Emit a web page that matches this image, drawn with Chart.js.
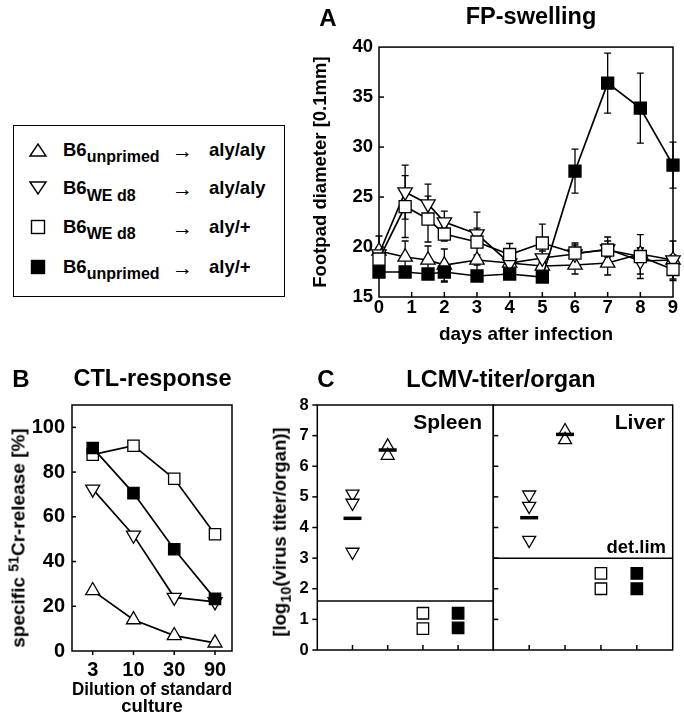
<!DOCTYPE html>
<html>
<head>
<meta charset="utf-8">
<script src="https://cdn.jsdelivr.net/npm/chart.js@4.4.1/dist/chart.umd.min.js"></script>
<style>
  body { margin: 0; background: #fff; }
  #fig { position: relative; width: 684px; height: 720px; overflow: hidden;
         font-family: "Liberation Sans", Arial, sans-serif; font-weight: bold; color: #000; }
  canvas { position: absolute; }
  .lbl { position: absolute; line-height: 1; white-space: nowrap; z-index: 2; }
  .c { transform: translate(-50%, -50%); }
  .r { transform: translate(-100%, -50%); }
  .rot { transform: translate(-50%, -50%) rotate(-90deg); }
  .sup { position: relative; top: -0.42em; font-size: 0.74em; }
  .sub { position: relative; top: 0.32em; font-size: 0.78em; }
  #legendBox { position: absolute; left: 13px; top: 125px; width: 272px; height: 172px;
               border: 1.5px solid #000; box-sizing: border-box; }
</style>
</head>
<body>
<div id="fig">
  <div id="legendBox"></div>
  <canvas id="chartA" width="384" height="320" style="left:300px;top:30px"></canvas>
  <canvas id="chartB" width="300" height="350" style="left:0px;top:370px"></canvas>
  <canvas id="chartSpleen" width="234" height="300" style="left:260px;top:370px"></canvas>
  <canvas id="chartLiver" width="204" height="300" style="left:480px;top:370px"></canvas>

  <div class="lbl c" style="left:328px;top:17.5px;font-size:24px">A</div>
  <div class="lbl c" style="left:531px;top:16.5px;font-size:23.5px">FP-swelling</div>
  <div class="lbl c" style="left:21px;top:379px;font-size:24px">B</div>
  <div class="lbl c" style="left:152.5px;top:379px;font-size:23.5px">CTL-response</div>
  <div class="lbl c" style="left:326px;top:379px;font-size:24px">C</div>
  <div class="lbl c" style="left:501px;top:379.5px;font-size:23.5px">LCMV-titer/organ</div>

  <div class="lbl rot" style="left:18px;top:538px;font-size:19px">specific <span class="sup">51</span>Cr-release [%]</div>
  <div class="lbl rot" style="left:280px;top:532px;font-size:18.5px">[log<span class="sub">10</span>(virus titer/organ)]</div>

  <div class="lbl r" style="left:482px;top:420.5px;font-size:21px">Spleen</div>
  <div class="lbl r" style="left:665px;top:420.5px;font-size:21px">Liver</div>
  <div class="lbl r" style="left:666px;top:546.5px;font-size:18.5px">det.lim</div>
  <div id="legendRows"></div>
</div>

<script>
// ---- legend groups (donor -> recipient) ----
const legendDonor = ['unprimed', 'WE d8', 'WE d8', 'unprimed'];
const legendRecipient = ['aly/aly', 'aly/aly', 'aly/+', 'aly/+'];
const legendSymbol = ['up', 'down', 'open', 'filled'];

// ---- A: footpad swelling ----
const days = [0, 0.8, 1.5, 2, 3, 4, 5, 6, 7, 8, 9];
const fpUnprimedAlyAly = [19.6, 19.0, 18.7, 18.2, 18.7, 18.4, 18.1, 18.2, 18.4, 19.3, 18.7];
const fpUnprimedAlyAlySd = [0.3, 1.6, 1.4, 1.6, 0.5, 0.5, 0.4, 0.9, 1.2, 0.6, 0.5];
const fpWeAlyAly = [19.3, 25.5, 24.3, 22.5, 21.3, 18.4, 18.9, 19.3, 19.8, 18.6, 18.7];
const fpWeAlyAlySd = [1.8, 2.7, 2.0, 1.1, 0.6, 0.5, 0.7, 0.9, 0.8, 1.3, 1.9];
const fpWeAlyPlus = [18.8, 24.05, 22.8, 21.3, 20.5, 19.25, 20.4, 19.4, 19.7, 19.05, 17.75];
const fpWeAlyPlusSd = [0.5, 3.1, 2.3, 0.7, 3.0, 1.1, 1.9, 1.0, 1.3, 2.2, 1.1];
const fpUnprimedAlyPlus = [17.5, 17.5, 17.3, 17.5, 17.1, 17.3, 17.0, 27.6, 36.4, 33.9, 28.2];
const fpUnprimedAlyPlusSd = [0.4, 0.4, 0.4, 1.0, 0.4, 0.4, 0.4, 2.2, 3.0, 3.5, 2.3];

// ---- B: CTL response ----
const dilutions = ['3', '10', '30', '90'];
const ctlUnprimedAlyAly = [27, 14, 6.9, 3.6];
const ctlWeAlyAly = [72.4, 51.8, 24, 22];
const ctlWeAlyPlus = [87.8, 91.8, 77, 52.2];
const ctlUnprimedAlyPlus = [90.8, 70.6, 45.5, 23.3];

// ---- C: virus titer per organ (x = group position 1..4) ----
const spleenWeAlyAly = [5.1, 4.8, 3.2];
const spleenUnprimedAlyAly = [6.65, 6.35];
const spleenWeAlyPlus = [1.2, 0.7];
const spleenUnprimedAlyPlus = [1.2, 0.72];
const spleenMeans = [4.3, 6.53];
const spleenDetLim = 1.6;
const liverWeAlyAly = [5.07, 4.7, 3.59];
const liverUnprimedAlyAly = [7.15, 6.86];
const liverWeAlyPlus = [2.5, 2.0];
const liverUnprimedAlyPlus = [2.5, 2.0];
const liverMeans = [4.32, 7.04];
const liverDetLim = 3.0;

const FONT = "'Liberation Sans', Arial, sans-serif";
const bold = (size, lineHeight) => ({ family: FONT, size: size, weight: 'bold', lineHeight: lineHeight || 1.2 });
Chart.defaults.color = '#000';
Chart.defaults.font.family = FONT;

// legend rows (html + svg symbols)
const rowY = [150, 188.3, 227, 266.7];
function symbolSvg(kind) {
  let shape;
  if (kind === 'up') shape = '<polygon points="2,16 10,4 18,16" fill="#fff" stroke="#000" stroke-width="1.4"/>';
  else if (kind === 'down') shape = '<polygon points="2,4 10,16 18,4" fill="#fff" stroke="#000" stroke-width="1.4"/>';
  else shape = '<rect x="3.5" y="3.5" width="13" height="13" fill="' + (kind === 'filled' ? '#000' : '#fff') + '" stroke="#000" stroke-width="1.4"/>';
  return '<svg width="20" height="20" style="display:block">' + shape + '</svg>';
}
let rowsHtml = '';
legendDonor.forEach((d, i) => {
  const cy = rowY[i];
  rowsHtml += '<div style="position:absolute;left:' + 28 + 'px;top:' + (cy - 10) + 'px">' + symbolSvg(legendSymbol[i]) + '</div>';
  rowsHtml += '<div class="lbl" style="left:63px;top:' + (cy - 9.1) + 'px;font-size:18.5px">B6<span style="position:relative;top:6.5px;font-size:16px">' + d + '</span></div>';
  rowsHtml += '<div class="lbl" style="left:172px;top:' + cy + 'px;font-size:21px;transform:translateY(-50%)">\u2192</div>';
  rowsHtml += '<div class="lbl" style="left:209px;top:' + (cy - 9.1) + 'px;font-size:18.5px">' + legendRecipient[i] + '</div>';
});
document.getElementById('legendRows').innerHTML = rowsHtml;

// box round the plot area plus short tick marks
const frame = {
  id: 'frame',
  beforeDatasetsDraw(chart, args, opts) {
    const ctx = chart.ctx, a = chart.chartArea;
    ctx.save();
    ctx.strokeStyle = '#000';
    ctx.lineWidth = 1.5;
    ctx.strokeRect(a.left, a.top, a.right - a.left, a.bottom - a.top);
    (opts.marks || []).forEach(m => {
      const s = chart.scales[m.axis];
      s.ticks.forEach(t => {
        if (m.inward && (t.value <= s.min || t.value >= s.max)) return;
        const p = s.getPixelForValue(t.value);
        const d = m.inward ? -m.len : m.len;
        ctx.beginPath();
        if (m.axis === 'x') { ctx.moveTo(p, a.bottom); ctx.lineTo(p, a.bottom + d); }
        else { ctx.moveTo(a.left, p); ctx.lineTo(a.left - d, p); }
        ctx.stroke();
      });
    });
    ctx.restore();
  }
};

// vertical error bars from dataset.errors
const errorBars = {
  id: 'errorBars',
  beforeDatasetsDraw(chart) {
    const ctx = chart.ctx, ys = chart.scales.y;
    ctx.save();
    ctx.strokeStyle = '#000';
    ctx.lineWidth = 1.3;
    chart.data.datasets.forEach((ds, i) => {
      if (!ds.errors) return;
      chart.getDatasetMeta(i).data.forEach((pt, j) => {
        const v = ds.data[j].y, e = ds.errors[j];
        const top = ys.getPixelForValue(v + e), bot = ys.getPixelForValue(v - e);
        ctx.beginPath();
        ctx.moveTo(pt.x, top); ctx.lineTo(pt.x, bot);
        ctx.moveTo(pt.x - 3.5, top); ctx.lineTo(pt.x + 3.5, top);
        ctx.moveTo(pt.x - 3.5, bot); ctx.lineTo(pt.x + 3.5, bot);
        ctx.stroke();
      });
    });
    ctx.restore();
  }
};

const markers = {
  up: { pointStyle: 'triangle', pointRotation: 0, pointBackgroundColor: '#fff' },
  down: { pointStyle: 'triangle', pointRotation: 180, pointBackgroundColor: '#fff' },
  open: { pointStyle: 'rect', pointRotation: 0, pointBackgroundColor: '#fff' },
  filled: { pointStyle: 'rect', pointRotation: 0, pointBackgroundColor: '#000' }
};

function series(points, kind, radius, extra) {
  return Object.assign({
    data: points,
    borderColor: '#000',
    borderWidth: 1.7,
    pointBorderColor: '#000',
    pointBorderWidth: 1.3,
    pointRadius: radius,
    pointHoverRadius: radius,
    tension: 0,
    clip: false
  }, markers[kind], extra || {});
}

function baseOptions(padding) {
  return {
    responsive: false,
    animation: false,
    events: [],
    layout: { padding: padding, autoPadding: false },
    plugins: { legend: { display: false }, tooltip: { enabled: false } }
  };
}

const noGrid = { display: false, drawTicks: false };

// ---- chart A ----
const xy = (xs, ys) => xs.map((x, i) => ({ x: x, y: ys[i] }));
const triR = 8.3, sqR = 8.5;
const optA = baseOptions({ left: 0, top: 13, right: 11, bottom: 0 });
optA.plugins.frame = { marks: [{ axis: 'x', len: 5, inward: true }, { axis: 'y', len: 5, inward: true }] };
optA.scales = {
  x: {
    type: 'linear', min: 0, max: 9,
    afterFit: s => { s.height = 53; },
    grid: noGrid, border: { display: false },
    ticks: { stepSize: 1, padding: 0, autoSkip: false, maxRotation: 0, font: bold(18.5) },
    title: { display: true, text: 'days after infection', font: bold(19), padding: { top: 0, bottom: 4 } }
  },
  y: {
    min: 15, max: 40,
    afterFit: s => { s.width = 79; },
    grid: noGrid, border: { display: false },
    ticks: { stepSize: 5, padding: 6, font: bold(18.5) },
    title: { display: true, text: 'Footpad diameter [0.1mm]', font: bold(18.5), padding: { top: 10, bottom: 0 } }
  }
};
new Chart(document.getElementById('chartA'), {
  type: 'line',
  data: {
    datasets: [
      series(xy(days, fpUnprimedAlyPlus), 'filled', sqR, { errors: fpUnprimedAlyPlusSd }),
      series(xy(days, fpWeAlyPlus), 'open', sqR, { errors: fpWeAlyPlusSd }),
      series(xy(days, fpWeAlyAly), 'down', triR, { errors: fpWeAlyAlySd }),
      series(xy(days, fpUnprimedAlyAly), 'up', triR, { errors: fpUnprimedAlyAlySd })
    ]
  },
  options: optA,
  plugins: [frame, errorBars]
});

// ---- chart B ----
const idx = dilutions.map((_, i) => i);
const optB = baseOptions({ left: 0, top: 35, right: 68, bottom: 0 });
optB.plugins.frame = { marks: [{ axis: 'y', len: 4, inward: true }, { axis: 'x', len: 4, inward: false }] };
optB.scales = {
  x: {
    type: 'linear', min: -0.508, max: 3.417,
    afterBuildTicks: s => { s.ticks = idx.map(i => ({ value: i })); },
    afterFit: s => { s.height = 69; },
    grid: noGrid, border: { display: false },
    ticks: { padding: 7, autoSkip: false, maxRotation: 0, font: bold(20), callback: v => dilutions[v] },
    title: { display: true, text: ['Dilution of standard', 'culture'], font: bold(18.5, 0.92), padding: { top: 0, bottom: 4.5 } }
  },
  y: {
    min: 0, max: 110,
    afterBuildTicks: s => { s.ticks = s.ticks.filter(t => t.value % 20 === 0); },
    afterFit: s => { s.width = 72; },
    grid: noGrid, border: { display: false },
    ticks: { stepSize: 20, padding: 7, font: bold(20) }
  }
};
new Chart(document.getElementById('chartB'), {
  type: 'line',
  data: {
    datasets: [
      series(xy(idx, ctlUnprimedAlyPlus), 'filled', 8),
      series(xy(idx, ctlWeAlyPlus), 'open', 8),
      series(xy(idx, ctlWeAlyAly), 'down', 8.1),
      series(xy(idx, ctlUnprimedAlyAly), 'up', 8.1)
    ]
  },
  options: optB,
  plugins: [frame]
});

// ---- chart C (spleen and liver) ----
function organDatasets(weAlyAly, unprimedAlyAly, weAlyPlus, unprimedAlyPlus, means, detLim) {
  const at = (x, vals) => vals.map(v => ({ x: x, y: v }));
  return [
    { data: [{ x: 1, y: means[0] }, { x: 2, y: means[1] }], showLine: false, pointStyle: 'line',
      pointRadius: 9, pointHoverRadius: 9, pointBorderWidth: 3.5, pointBorderColor: '#000', borderColor: '#000', clip: false },
    series(at(1, weAlyAly), 'down', 7.5, { showLine: false }),
    series(at(2, unprimedAlyAly), 'up', 7.5, { showLine: false }),
    series(at(3, weAlyPlus), 'open', 8.1, { showLine: false }),
    series(at(4, unprimedAlyPlus), 'filled', 8.1, { showLine: false }),
    { data: [{ x: 0, y: detLim }, { x: 5, y: detLim }], borderColor: '#000', borderWidth: 1.5, pointRadius: 0 }
  ];
}
function organOptions(padding, yWidth, showLabels) {
  const o = baseOptions(padding);
  o.plugins.frame = { marks: [{ axis: 'x', len: 5, inward: true }, { axis: 'y', len: 5, inward: !showLabels }] };
  o.scales = {
    x: {
      type: 'linear', min: 0, max: 5,
      afterFit: s => { s.height = 20; },
      grid: noGrid, border: { display: false },
      ticks: { stepSize: 1, display: false }
    },
    y: {
      min: 0, max: 8,
      afterFit: s => { s.width = yWidth; },
      grid: noGrid, border: { display: false },
      ticks: { stepSize: 1, padding: 8.5, display: showLabels, font: bold(16.5) }
    }
  };
  return o;
}
new Chart(document.getElementById('chartSpleen'), {
  type: 'line',
  data: { datasets: organDatasets(spleenWeAlyAly, spleenUnprimedAlyAly, spleenWeAlyPlus, spleenUnprimedAlyPlus, spleenMeans, spleenDetLim) },
  options: organOptions({ left: 0, top: 35, right: 0.7, bottom: 0 }, 57.3, true),
  plugins: [frame]
});
new Chart(document.getElementById('chartLiver'), {
  type: 'line',
  data: { datasets: organDatasets(liverWeAlyAly, liverUnprimedAlyAly, liverWeAlyPlus, liverUnprimedAlyPlus, liverMeans, liverDetLim) },
  options: organOptions({ left: 0, top: 35, right: 11.3, bottom: 0 }, 13.3, false),
  plugins: [frame]
});
</script>
</body>
</html>
